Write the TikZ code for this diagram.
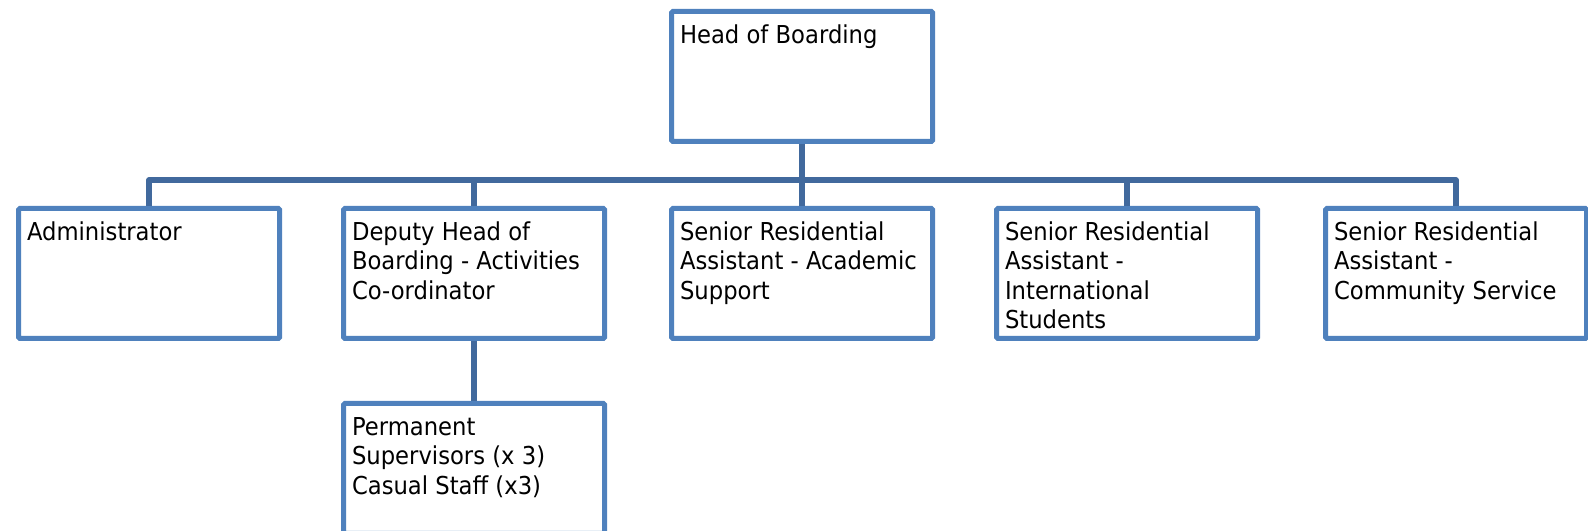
\documentclass[tikz,border=0pt]{standalone}
\usepackage{fontspec}
\setmainfont[FakeStretch=0.92]{DejaVu Sans}
\usepackage{tikz}
\definecolor{boxblue}{RGB}{79,129,189}
\definecolor{linkblue}{RGB}{65,105,157}
\newcommand{\boxlabel}[1]{\parbox[c][97.5pt][t]{183pt}{\vspace{8.6pt}\strut#1}}
\tikzset{
  orgbox/.style={draw=boxblue, line width=3.75pt, rounded corners=1pt, fill=white,
    inner xsep=6.4pt, inner ysep=0pt, anchor=north west,
    font=\fontsize{18.5pt}{22pt}\selectfont},
  link/.style={draw=linkblue, line width=3.9pt, line join=round}
}

\begin{document}
\begin{tikzpicture}[x=0.75pt,y=0.75pt]
			\useasboundingbox (0,0) rectangle (1588,531);
			%Topo
			\node[orgbox] (head) at (669,522) {\boxlabel{Head of Boarding}};
			
			%Segunda linha
			\node[orgbox] (adm) at (16,325) {\boxlabel{Administrator}};
			\node[orgbox] (dep) at (341,325) {\boxlabel{Deputy Head of\\Boarding - Activities\\Co-ordinator}};
			\node[orgbox] (acad) at (669,325) {\boxlabel{Senior Residential\\Assistant - Academic\\Support}};
			\node[orgbox] (intl) at (994,325) {\boxlabel{Senior Residential\\Assistant -\\International\\Students}};
			\node[orgbox] (comm) at (1323,325) {\boxlabel{Senior Residential\\Assistant -\\Community Service}};
			
			%Terceira linha
			\node[orgbox] (perm) at (341,130) {\boxlabel{Permanent\\Supervisors (x 3)\\Casual Staff (x3)}};
			
			%Ligacoes
			\draw[link] (head.south) -- ++(0,-36) coordinate (bus);
			\draw[link] (adm.north) |- (bus) -| (comm.north);
			\foreach \n in {dep,acad,intl}
				\draw[link] (\n.north) -- (\n.north |- bus);
			\draw[link] (dep.south) -- (perm.north);
		\end{tikzpicture}
\end{document}
